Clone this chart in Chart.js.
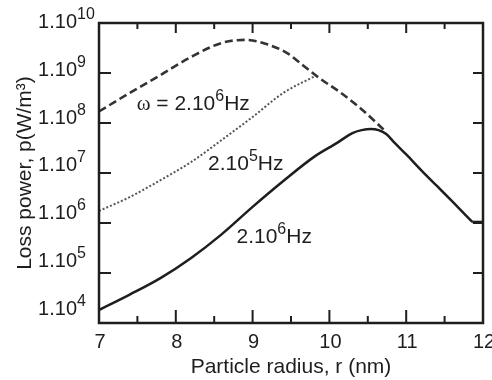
<!DOCTYPE html>
<html>
<head>
<meta charset="utf-8">
<script src="https://cdn.jsdelivr.net/npm/chart.js@4.4.1/dist/chart.umd.min.js"></script>
<style>
  html, body { margin: 0; padding: 0; background: #fff; }
</style>
</head>
<body>
<canvas id="lossChart" width="492" height="380"></canvas>
<script>
// Loss power vs particle radius (log scale)
const radiusDashed = [7.0, 7.4, 7.8, 8.2, 8.6, 8.9, 9.2, 9.45, 9.65, 9.87, 10.15, 10.4, 10.74];
const lossDashed = [1.7e8, 4.0e8, 9.1e8, 2.1e9, 4.0e9, 4.6e9, 3.7e9, 2.5e9, 1.45e9, 7.9e8, 4.0e8, 2.0e8, 6.6e7];

const radiusDotted = [7.0, 7.4, 7.8, 8.2, 8.6, 9.0, 9.4, 9.8];
const lossDotted = [1.74e6, 3.3e6, 7.2e6, 1.66e7, 4.6e7, 1.32e8, 4.0e8, 8.5e8];

const radiusSolid = [7.0, 7.4, 7.8, 8.2, 8.6, 9.0, 9.4, 9.8, 10.1, 10.3, 10.42, 10.54, 10.64, 10.74, 10.85, 11.0, 11.2, 11.4, 11.6, 11.86];
const lossSolid = [1.82e4, 3.7e4, 7.9e4, 2.0e5, 6.0e5, 2.1e6, 6.9e6, 2.1e7, 4.0e7, 6.3e7, 7.2e7, 7.6e7, 7.2e7, 6.0e7, 4.0e7, 2.35e7, 1.12e7, 5.5e6, 2.7e6, 1.05e6];
// flat tail of the solid curve after the corner
const radiusSolidTail = [11.86, 12.0];
const lossSolidTail = [1.05e6, 1.05e6];

const xTicks = [7, 8, 9, 10, 11, 12];
const xMinorTicks = [7.5, 8.5, 9.5, 10.5, 11.5];
const yTickExps = [4, 5, 6, 7, 8, 9, 10];

// curve labels: runs of text, anchored at (radius, loss) of the text's left baseline
const curveLabels = [
    { at: [7.49, 1.8e8], runs: [{ text: 'ω', serif: true }, { text: ' = 2.10' }, { text: '6', sup: true }, { text: 'Hz' }] },
    { at: [8.42, 1.15e7], runs: [{ text: '2.10' }, { text: '5', sup: true }, { text: 'Hz' }] },
    { at: [8.79, 4.0e5], runs: [{ text: '2.10' }, { text: '6', sup: true }, { text: 'Hz' }] }
];

const SANS = '"Liberation Sans", Arial, sans-serif';
const SERIF = '"Liberation Serif", "Times New Roman", serif';
const INK = '#1e1e1e';

function toPoints(xs, ys) {
    return xs.map((x, i) => ({ x: x, y: ys[i] }));
}

function drawRuns(ctx, runs, x, y, size) {
    for (const run of runs) {
        ctx.font = (run.sup ? 16 : size) + 'px ' + (run.serif ? SERIF : SANS);
        ctx.fillText(run.text, x, run.sup ? y - 9 : y);
        x += ctx.measureText(run.text).width;
    }
    return x;
}

// frame, inward ticks, tick labels and curve labels
const framePlugin = {
    id: 'frame',
    afterDatasetsDraw(chart) {
        const ctx = chart.ctx;
        const area = chart.chartArea;
        const xs = chart.scales.x;
        const ys = chart.scales.y;

        ctx.save();
        ctx.strokeStyle = INK;
        ctx.fillStyle = INK;
        ctx.lineWidth = 2.5;
        ctx.strokeRect(area.left, area.top, area.right - area.left, area.bottom - area.top);

        ctx.lineWidth = 2;
        ctx.beginPath();
        xTicks.forEach(v => {
            const px = xs.getPixelForValue(v);
            ctx.moveTo(px, area.bottom); ctx.lineTo(px, area.bottom - 13);
            ctx.moveTo(px, area.top); ctx.lineTo(px, area.top + 10);
        });
        xMinorTicks.forEach(v => {
            const px = xs.getPixelForValue(v);
            ctx.moveTo(px, area.bottom); ctx.lineTo(px, area.bottom - 7);
            ctx.moveTo(px, area.top); ctx.lineTo(px, area.top + 6);
        });
        yTickExps.forEach(e => {
            const py = ys.getPixelForValue(Math.pow(10, e));
            ctx.moveTo(area.left, py); ctx.lineTo(area.left + 12, py);
            ctx.moveTo(area.right, py); ctx.lineTo(area.right - 10, py);
        });
        ctx.stroke();

        // x tick labels
        ctx.textBaseline = 'alphabetic';
        ctx.textAlign = 'center';
        ctx.font = '20px ' + SANS;
        xTicks.forEach(v => {
            ctx.fillText(String(v), xs.getPixelForValue(v) + 1, area.bottom + 25);
        });

        // y tick labels "1.10^n"
        ctx.textAlign = 'left';
        yTickExps.forEach(e => {
            const py = ys.getPixelForValue(Math.pow(10, e));
            const mid = area.top + (py - area.top) * 0.956 - 2;
            ctx.font = '20px ' + SANS;
            const w = ctx.measureText('1.10').width;
            drawRuns(ctx, [{ text: '1.10' }, { text: String(e), sup: true }], 77 - w, mid + 7, 20);
        });

        curveLabels.forEach(lbl => {
            drawRuns(ctx, lbl.runs, xs.getPixelForValue(lbl.at[0]), ys.getPixelForValue(lbl.at[1]), 21);
        });
        ctx.restore();
    }
};

const solidStyle = {
    borderColor: INK,
    borderWidth: 2.5,
    pointRadius: 0,
    cubicInterpolationMode: 'monotone'
};

const ctx = document.getElementById('lossChart').getContext('2d');
const lossChart = new Chart(ctx, {
    type: 'line',
    data: {
        datasets: [
            {
                label: 'dashed',
                data: toPoints(radiusDashed, lossDashed),
                borderColor: '#333',
                borderWidth: 2.6,
                borderDash: [8, 4],
                pointRadius: 0,
                cubicInterpolationMode: 'monotone'
            },
            {
                label: '2.10^5 Hz',
                data: toPoints(radiusDotted, lossDotted),
                borderColor: '#555',
                borderWidth: 2,
                borderDash: [2, 2],
                pointRadius: 0,
                cubicInterpolationMode: 'monotone'
            },
            Object.assign({ label: '2.10^6 Hz', data: toPoints(radiusSolid, lossSolid) }, solidStyle),
            Object.assign({ label: '2.10^6 Hz tail', data: toPoints(radiusSolidTail, lossSolidTail) }, solidStyle)
        ]
    },
    options: {
        responsive: false,
        animation: false,
        layout: { padding: { top: 23, right: 9, bottom: 0, left: 0 } },
        plugins: {
            legend: { display: false },
            tooltip: { enabled: false }
        },
        scales: {
            x: {
                type: 'linear',
                min: 7,
                max: 12,
                grid: { display: false },
                border: { display: false },
                ticks: { display: false },
                title: {
                    display: true,
                    text: 'Particle radius, r (nm)',
                    color: INK,
                    font: { family: SANS, size: 21 },
                    padding: { top: 0, bottom: 0 }
                },
                afterFit(scale) { scale.height = 57; }
            },
            y: {
                type: 'logarithmic',
                min: 1e4,
                max: 1e10,
                grid: { display: false },
                border: { display: false },
                ticks: { display: false },
                title: {
                    display: true,
                    text: 'Loss power, p(W/m³)',
                    color: INK,
                    font: { family: SANS, size: 21 },
                    padding: { top: 13, bottom: 0 }
                },
                afterFit(scale) { scale.width = 99; }
            }
        }
    },
    plugins: [framePlugin]
});
</script>
</body>
</html>
